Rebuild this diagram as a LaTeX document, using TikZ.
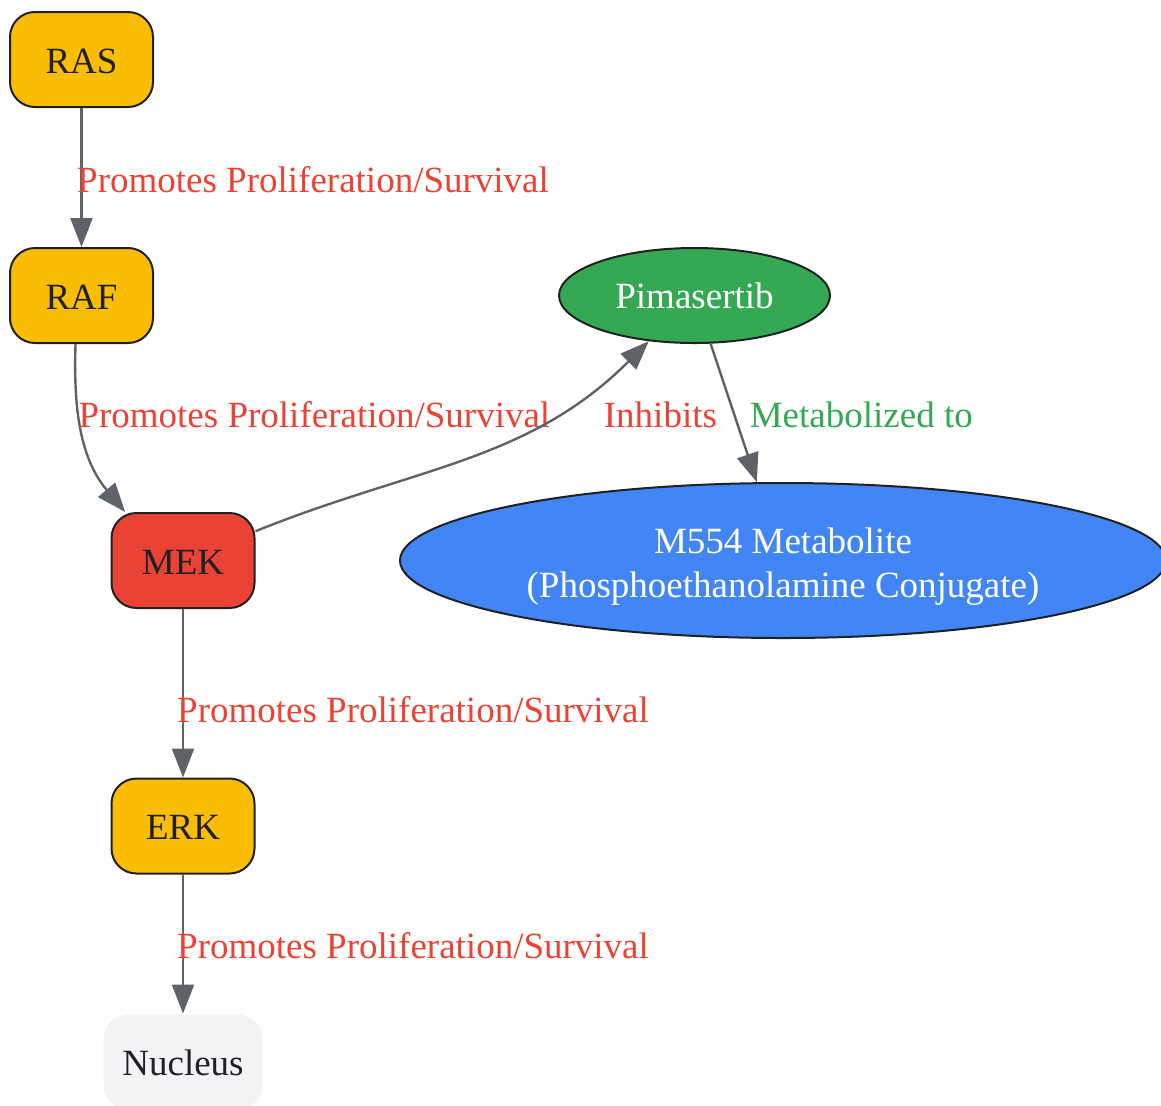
\documentclass[tikz,border=0pt]{standalone}
\usepackage{fontspec}
\setmainfont{Liberation Serif}
\usetikzlibrary{shapes.geometric}
\usetikzlibrary{positioning}
\usetikzlibrary{arrows.meta}
\definecolor{ink}{HTML}{202124}
\definecolor{kinase}{HTML}{FBBC04}
\definecolor{mekred}{HTML}{EA4335}
\definecolor{drugreen}{HTML}{34A853}
\definecolor{metblue}{HTML}{4285F4}
\definecolor{nucgrey}{HTML}{F1F3F4}
\definecolor{edgegrey}{HTML}{5F6368}

\begin{document}
\begin{tikzpicture}
	[node distance={118pt}, line width=1pt, >={Triangle[length=14.5pt,width=11pt]},
	main/.style = {draw=ink, rounded corners=12.5pt, fill=kinase, text=ink, minimum width=71.5pt, minimum height=47.5pt, text height=13.5pt, text depth=0pt, font=\fontsize{18.5}{22}\selectfont},
	drug/.style = {draw=ink, ellipse, fill=drugreen, text=white, inner sep=2pt, minimum width=135.5pt, minimum height=47.5pt, text height=13pt, text depth=0pt, font=\fontsize{18.5}{22}\selectfont},
	flow/.style = {->, edgegrey, line width=1.2pt},
	lbl/.style = {inner sep=0pt, anchor=west, text=mekred, font=\fontsize{18.5}{22}\selectfont}]
	\useasboundingbox (0,0) rectangle (580.5pt,-552.5pt);
	\node[main] (ras) at (40.75pt,-29.75pt) {RAS};
	\node[main] (raf) [below of = ras] {RAF};
	\node[main, fill=mekred] (mek) [below of = raf, node distance={132.5pt}, xshift=50.75pt] {MEK};
	\node[main] (erk) [below of = mek, node distance={132.75pt}] {ERK};
	\node[main, draw=none, fill=nucgrey, minimum width=79.5pt] (nuc) [below of = erk] {Nucleus};
	\node[drug] (pim) [right of = raf, node distance={306.5pt}] {Pimasertib};
	\node[drug, fill=metblue, minimum width=383pt, minimum height=77.5pt, align=center, text height=40.5pt, text depth=4pt] (m554) [right of = mek, node distance={300pt}] {M554 Metabolite\\(Phosphoethanolamine Conjugate)};
	\draw[flow] (ras) -- node[lbl, xshift=-2.75pt, yshift=-1.25pt] {Promotes Proliferation/Survival} (raf);
	\draw[flow] (raf.-97) to [out=-92, in=130] node[lbl, pos=0.4, xshift=-1pt, yshift=1.5pt] {Promotes Proliferation/Survival} (mek.140);
	\draw[flow] (mek) to [out=22, in=-135] node[lbl, pos=0.75, xshift=22pt, yshift=-1pt] {Inhibits} (pim);
	\draw[flow] (pim) -- node[lbl, pos=0.52, xshift=7pt, yshift=0.5pt, text=drugreen] {Metabolized to} (m554);
	\draw[flow] (mek) -- node[lbl, xshift=-3.5pt, yshift=-8pt] {Promotes Proliferation/Survival} (erk);
	\draw[flow] (erk) -- node[lbl, xshift=-3.5pt, yshift=-0.75pt] {Promotes Proliferation/Survival} (nuc);
\end{tikzpicture}
\end{document}
